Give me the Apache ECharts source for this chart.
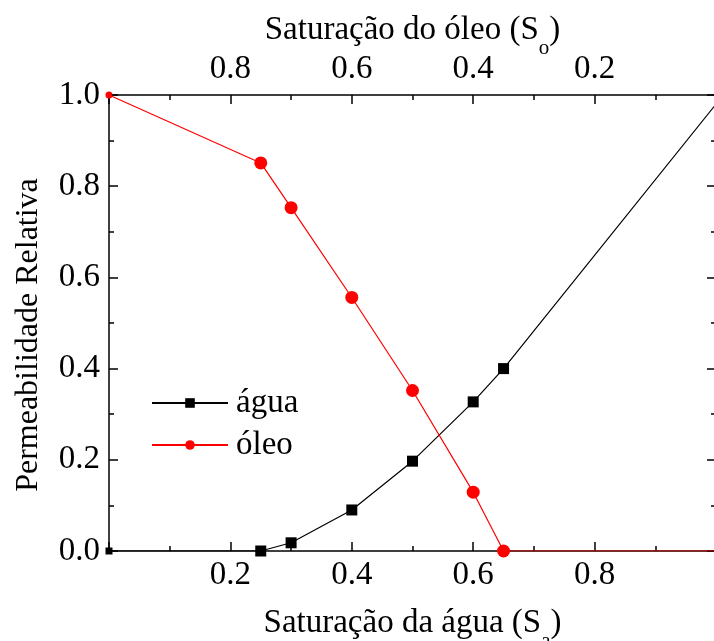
<!DOCTYPE html>
<html>
<head>
<meta charset="utf-8">
<script src="https://cdn.jsdelivr.net/npm/echarts@6/dist/echarts.min.js"></script>
<style>
  html, body { margin: 0; padding: 0; background: #fff; }
  #chart { width: 714px; height: 641px; }
</style>
</head>
<body>
<div id="chart"></div>
<script>
// water saturation (bottom axis) and relative permeability values
const swAgua = [0, 0.25, 0.30, 0.40, 0.50, 0.60, 0.65, 1.0]
const krAgua = [0, 0, 0.018, 0.09, 0.197, 0.327, 0.40, 0.98]
const swOleo = [0, 0.25, 0.30, 0.40, 0.50, 0.60, 0.65, 1.0]
const krOleo = [1.0, 0.851, 0.753, 0.556, 0.352, 0.129, 0, 0]

const seriesNames = ['água', 'óleo']
const xTicks = [0.2, 0.4, 0.6, 0.8]
const yTicks = [0.0, 0.2, 0.4, 0.6, 0.8, 1.0]

const FONT = 'Liberation Serif'
const FS = 33

// points on the plot edge get a small marker (they are clipped in the original), x = 1 has none
const toData = (xs, ys) => xs.map((x, i) => {
  const item = { value: [x, ys[i]] }
  if (x === 0) item.symbolSize = 7
  if (x === 1) item.symbol = 'none'
  return item
})

const axisLine = { show: true, onZero: false, lineStyle: { color: '#000', width: 1.5 } }
const axisTick = { show: true, inside: true, length: 9, lineStyle: { color: '#000', width: 1.5 } }
const minorTick = { show: true, splitNumber: 2, length: 5, lineStyle: { color: '#000', width: 1.5 } }
const tickLabel = (v) => xTicks.some(t => Math.abs(t - v) < 1e-9) ? v.toFixed(1) : ''

const titleStyle = {
  fontFamily: FONT, fontSize: FS, color: '#000',
  rich: {
    n: { fontFamily: FONT, fontSize: FS, color: '#000', lineHeight: 38, verticalAlign: 'top' },
    sub: { fontFamily: FONT, fontSize: 21, color: '#000', lineHeight: 68 }
  }
}

const chart = echarts.init(document.getElementById('chart'))

chart.setOption({
  animation: false,
  grid: { left: 109, top: 95, right: -2, bottom: 90, outerBoundsMode: 'none' },
  legend: {
    orient: 'vertical',
    left: 151,
    top: 386,
    padding: 0,
    itemWidth: 76,
    itemHeight: 12,
    itemGap: 8,
    data: seriesNames,
    textStyle: { fontFamily: FONT, fontSize: FS, color: '#000', lineHeight: 34, padding: [0, 0, 0, 3] }
  },
  xAxis: [
    {
      type: 'value',
      position: 'bottom',
      min: 0, max: 1, interval: 0.2,
      name: '{n|Saturação da água (S}{sub|a}{n|)}',
      nameLocation: 'middle',
      nameGap: 56,
      nameMoveOverlap: false,
      nameTextStyle: titleStyle,
      axisLine, axisTick, minorTick,
      splitLine: { show: false },
      axisLabel: { fontFamily: FONT, fontSize: FS, color: '#000', margin: 8, formatter: tickLabel }
    },
    {
      type: 'value',
      position: 'top',
      inverse: true,
      min: 0, max: 1, interval: 0.2,
      name: '{n|Saturação do óleo (S}{sub|o}{n|)}',
      nameLocation: 'middle',
      nameGap: 13,
      nameMoveOverlap: false,
      nameTextStyle: titleStyle,
      axisLine, axisTick, minorTick,
      splitLine: { show: false },
      axisLabel: { fontFamily: FONT, fontSize: FS, color: '#000', margin: 9, formatter: tickLabel }
    }
  ],
  yAxis: [
    {
      type: 'value',
      position: 'left',
      min: 0, max: 1, interval: 0.2,
      name: 'Permeabilidade Relativa',
      nameLocation: 'middle',
      nameGap: 64,
      nameTextStyle: { fontFamily: FONT, fontSize: 32, color: '#000', padding: [0, 24, 0, 0] },
      axisLine, axisTick, minorTick,
      splitLine: { show: false },
      axisLabel: {
        fontFamily: FONT, fontSize: FS, color: '#000', margin: 9,
        formatter: (v) => yTicks.some(t => Math.abs(t - v) < 1e-9) ? v.toFixed(1) : ''
      }
    },
    {
      type: 'value',
      position: 'right',
      min: 0, max: 1, interval: 0.2,
      axisLine, axisTick, minorTick,
      splitLine: { show: false },
      axisLabel: { show: false }
    }
  ],
  series: [
    {
      name: seriesNames[0],
      type: 'line',
      xAxisIndex: 0,
      yAxisIndex: 0,
      data: toData(swAgua, krAgua),
      symbol: 'rect',
      symbolSize: 11,
      lineStyle: { color: '#000', width: 1.2 },
      itemStyle: { color: '#000' },
      clip: true
    },
    {
      name: seriesNames[1],
      type: 'line',
      xAxisIndex: 0,
      yAxisIndex: 0,
      data: toData(swOleo, krOleo),
      symbol: 'circle',
      symbolSize: 13,
      lineStyle: { color: '#ff0000', width: 1.2 },
      itemStyle: { color: '#ff0000' },
      clip: true
    }
  ]
})
</script>
</body>
</html>
